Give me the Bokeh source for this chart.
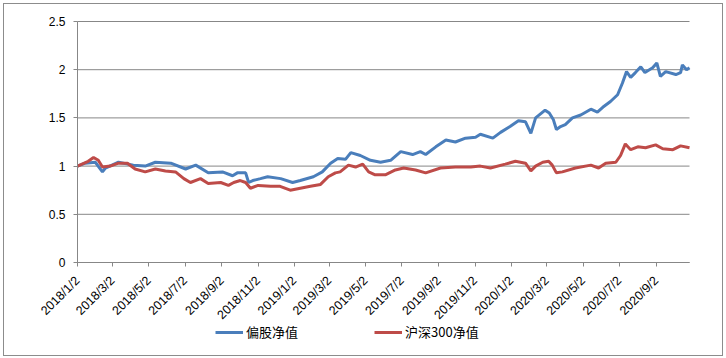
from datetime import datetime
import pandas as pd
from bokeh.plotting import figure
from bokeh.models import (ColumnDataSource, Range1d, FixedTicker, Legend, LegendItem)
from bokeh.embed import file_html
from bokeh.resources import INLINE

# ---------------- data ----------------
fund_dates = [
    "2018-01-02", "2018-01-15", "2018-02-01", "2018-02-13", "2018-02-18", "2018-03-12",
    "2018-04-06", "2018-04-26", "2018-05-13", "2018-06-08", "2018-07-03", "2018-07-20",
    "2018-08-10", "2018-09-03", "2018-09-20", "2018-09-28", "2018-10-12", "2018-10-17",
    "2018-10-24", "2018-11-06", "2018-11-18", "2018-12-10", "2018-12-30",
    "2019-01-12", "2019-02-03", "2019-02-18", "2019-03-04", "2019-03-16", "2019-03-29",
    "2019-04-07", "2019-04-23", "2019-05-10", "2019-05-27", "2019-06-13", "2019-06-30",
    "2019-07-20", "2019-08-02", "2019-08-11", "2019-08-28", "2019-09-14", "2019-09-30",
    "2019-10-17", "2019-11-03", "2019-11-11", "2019-12-02", "2019-12-15", "2019-12-31",
    "2020-01-14", "2020-01-26", "2020-02-04", "2020-02-12", "2020-02-28", "2020-03-06",
    "2020-03-13", "2020-03-18", "2020-03-25", "2020-04-02", "2020-04-14", "2020-04-28",
    "2020-05-15", "2020-05-26", "2020-06-04", "2020-06-17", "2020-06-29", "2020-07-07",
    "2020-07-14", "2020-07-21", "2020-07-29", "2020-08-07", "2020-08-14", "2020-08-27",
    "2020-09-03", "2020-09-09", "2020-09-18", "2020-10-05", "2020-10-13", "2020-10-16",
    "2020-10-23", "2020-10-28",
]
fund_values = [
    1.00, 1.03, 1.04, 0.94, 0.98, 1.04,
    1.01, 1.00, 1.04, 1.03, 0.97, 1.01,
    0.93, 0.94, 0.90, 0.93, 0.93, 0.83,
    0.85, 0.87, 0.89, 0.87, 0.83,
    0.85, 0.89, 0.94, 1.03, 1.08, 1.07,
    1.14, 1.11, 1.06, 1.04, 1.06, 1.15,
    1.12, 1.15, 1.12, 1.20, 1.27, 1.25,
    1.29, 1.30, 1.33, 1.29, 1.35, 1.41,
    1.47, 1.46, 1.34, 1.50, 1.58, 1.55,
    1.48, 1.38, 1.41, 1.43, 1.50, 1.53,
    1.59, 1.56, 1.61, 1.67, 1.74, 1.86,
    1.98, 1.92, 1.97, 2.03, 1.97, 2.02,
    2.07, 1.93, 1.98, 1.95, 1.97, 2.05,
    2.00, 2.02,
]

hs300_dates = [
    "2018-01-02", "2018-01-20", "2018-01-29", "2018-02-06", "2018-02-13", "2018-02-26",
    "2018-03-12", "2018-03-27", "2018-04-09", "2018-04-26", "2018-05-13", "2018-05-30",
    "2018-06-16", "2018-06-30", "2018-07-11", "2018-07-28", "2018-08-10", "2018-08-31",
    "2018-09-13", "2018-09-22", "2018-10-03", "2018-10-12", "2018-10-20", "2018-11-02",
    "2018-11-23", "2018-12-09", "2018-12-26",
    "2019-01-12", "2019-01-29", "2019-02-15", "2019-02-28", "2019-03-12", "2019-03-20",
    "2019-04-03", "2019-04-15", "2019-04-27", "2019-05-07", "2019-05-18", "2019-06-04",
    "2019-06-21", "2019-07-05", "2019-07-25", "2019-08-11", "2019-09-05", "2019-09-30",
    "2019-10-26", "2019-11-11", "2019-11-28", "2019-12-23",
    "2020-01-09", "2020-01-26", "2020-02-04", "2020-02-12", "2020-02-24", "2020-03-05",
    "2020-03-11", "2020-03-18", "2020-03-28", "2020-04-19", "2020-05-15", "2020-05-28",
    "2020-06-09", "2020-06-26", "2020-07-04", "2020-07-12", "2020-07-21", "2020-08-02",
    "2020-08-15", "2020-09-01", "2020-09-13", "2020-09-30", "2020-10-13", "2020-10-28",
]
hs300_values = [
    1.00, 1.05, 1.09, 1.06, 0.99, 1.00,
    1.03, 1.03, 0.97, 0.94, 0.97, 0.95,
    0.94, 0.87, 0.83, 0.87, 0.82, 0.83,
    0.80, 0.83, 0.85, 0.83, 0.77, 0.80,
    0.79, 0.79, 0.75,
    0.77, 0.79, 0.81, 0.89, 0.93, 0.94,
    1.01, 0.99, 1.02, 0.94, 0.91, 0.91,
    0.96, 0.98, 0.96, 0.93, 0.98, 0.99,
    0.99, 1.00, 0.98, 1.02,
    1.05, 1.03, 0.95, 1.00, 1.04, 1.05,
    1.01, 0.93, 0.94, 0.98, 1.01, 0.98,
    1.03, 1.04, 1.11, 1.23, 1.17, 1.20,
    1.19, 1.22, 1.18, 1.17, 1.21, 1.19,
]

series_names = ["偏股净值", "沪深300净值"]

x_tick_labels = [
    "2018/1/2", "2018/3/2", "2018/5/2", "2018/7/2", "2018/9/2", "2018/11/2",
    "2019/1/2", "2019/3/2", "2019/5/2", "2019/7/2", "2019/9/2", "2019/11/2",
    "2020/1/2", "2020/3/2", "2020/5/2", "2020/7/2", "2020/9/2",
]
y_ticks = [0, 0.5, 1, 1.5, 2, 2.5]
y_tick_labels = ["0", "0.5", "1", "1.5", "2", "2.5"]

# ---------------- build ----------------
def to_ms(ts):
    return int(pd.Timestamp(ts).value // 10**6)

fund_src = ColumnDataSource(dict(x=pd.to_datetime(fund_dates), y=fund_values))
hs_src = ColumnDataSource(dict(x=pd.to_datetime(hs300_dates), y=hs300_values))

x_tick_ms = [to_ms(datetime.strptime(s, "%Y/%m/%d")) for s in x_tick_labels]
x_start_ms = to_ms(fund_dates[0])
x_end_ms = to_ms(fund_dates[-1])

GRID = "#878787"
FONT = "Liberation Sans"

# canvas and where the value band (plot area) sits inside it, in pixels
W, H = 720, 353
PA_LEFT, PA_TOP, PA_W, PA_H = 73, 17, 612, 241

ms_per_px = (x_end_ms - x_start_ms) / PA_W
val_per_px = (y_ticks[-1] - y_ticks[0]) / PA_H
x_range = Range1d(x_start_ms - PA_LEFT * ms_per_px,
                  x_end_ms + (W - PA_LEFT - PA_W) * ms_per_px)
y_range = Range1d(y_ticks[0] - (H - PA_TOP - PA_H) * val_per_px,
                  y_ticks[-1] + PA_TOP * val_per_px)

p = figure(
    width=W, height=H,
    x_axis_type="datetime",
    x_range=x_range, y_range=y_range,
    output_backend="svg", toolbar_location=None,
    min_border_left=0, min_border_top=0, min_border_right=0, min_border_bottom=0,
)
p.outline_line_color = None
p.background_fill_color = "white"
p.border_fill_color = "white"
p.xgrid.grid_line_color = None
p.ygrid.grid_line_color = None

# horizontal gridlines across the plot area only
grid_src = ColumnDataSource(dict(
    x0=[pd.Timestamp(fund_dates[0])] * len(y_ticks),
    x1=[pd.Timestamp(fund_dates[-1])] * len(y_ticks),
    y=y_ticks,
))
p.segment(x0="x0", y0="y", x1="x1", y1="y", source=grid_src,
          line_color=GRID, line_width=1)

r1 = p.line("x", "y", source=fund_src, line_width=3, color="#4A7EBB")
r2 = p.line("x", "y", source=hs_src, line_width=3, color="#BE4B48")

# axes (pinned to the plot-area edges)
p.xaxis.fixed_location = y_ticks[0]
p.xaxis.bounds = (x_start_ms, x_end_ms)
p.xaxis.ticker = FixedTicker(ticks=x_tick_ms)
p.xaxis.major_label_overrides = {ms: lab for ms, lab in zip(x_tick_ms, x_tick_labels)}
p.xaxis.major_label_orientation = 0.785398
p.yaxis.fixed_location = x_start_ms
p.yaxis.bounds = (y_ticks[0], y_ticks[-1])
p.yaxis.ticker = FixedTicker(ticks=y_ticks)
p.yaxis.major_label_overrides = {t: lab for t, lab in zip(y_ticks, y_tick_labels)}
for ax in (p.xaxis, p.yaxis):
    ax.axis_line_color = GRID
    ax.major_tick_line_color = GRID
    ax.minor_tick_line_color = None
    ax.major_tick_out = 4
    ax.major_tick_in = 0
    ax.major_label_text_font = FONT
    ax.major_label_text_color = "#000000"
p.yaxis.major_label_text_font_size = "12px"
p.xaxis.major_label_text_font_size = "12.5px"
p.yaxis.major_label_standoff = 8
p.xaxis.major_label_standoff = 12

legend = Legend(
    items=[LegendItem(label=series_names[0], renderers=[r1]),
           LegendItem(label=series_names[1], renderers=[r2])],
    orientation="horizontal", location=(211, 16),
    spacing=76, glyph_width=28, glyph_height=16, label_height=16,
    label_standoff=3, padding=0, margin=0,
    border_line_color=None, background_fill_alpha=0,
    label_text_font="Noto Sans CJK SC", label_text_font_size="13px",
    label_text_color="#000000",
)
p.add_layout(legend)

p.styles = {"border": "1px solid #8c8c8c", "margin-left": "3px", "margin-top": "3px"}

open("out.html", "w").write(file_html(p, INLINE))
